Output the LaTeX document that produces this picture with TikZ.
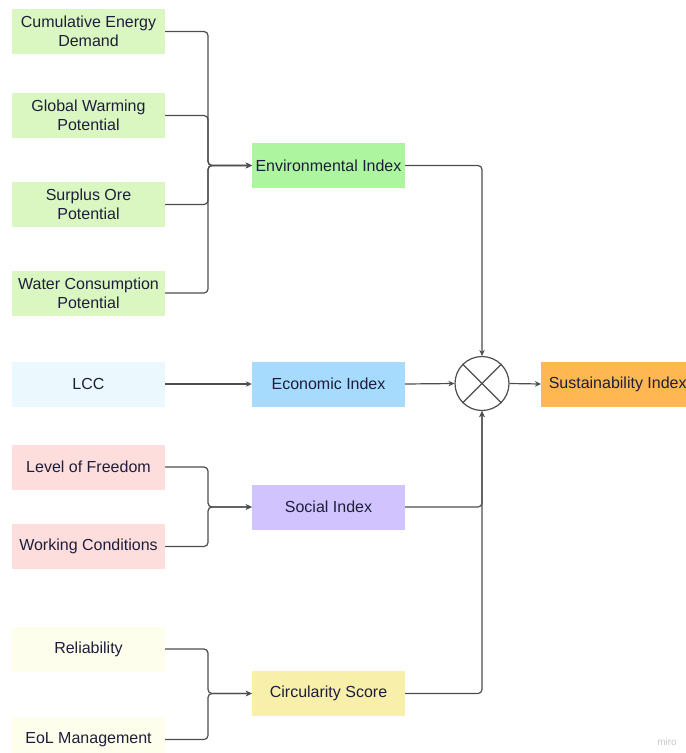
\documentclass[tikz,border=0pt]{standalone}
\usepackage{fontspec}
\setmainfont{Liberation Sans}
\usetikzlibrary{arrows.meta}
\definecolor{envleaf}{HTML}{DAF7C2}
\definecolor{envidx}{HTML}{ADF59F}
\definecolor{lccc}{HTML}{EBF8FE}
\definecolor{ecoc}{HTML}{A6DBFE}
\definecolor{socleaf}{HTML}{FEDEDC}
\definecolor{socc}{HTML}{D1C4FE}
\definecolor{cirleaf}{HTML}{FDFEEB}
\definecolor{cirr}{HTML}{F8EFAB}
\definecolor{sustc}{HTML}{FEB751}
\definecolor{txtc}{HTML}{1E1E3C}
\definecolor{linec}{HTML}{4D4D4D}
\tikzset{
  box/.style={rectangle, minimum width=153pt, minimum height=45pt, inner sep=0pt,
    align=center, text=txtc, font=\fontsize{16}{19}\selectfont},
  conn/.style={draw=linec, line width=1.2pt, rounded corners=4pt,
    -{Stealth[length=6pt,width=5.5pt]}},
}
\begin{document}
\begin{tikzpicture}[x=1pt,y=-1pt]
\useasboundingbox (0,0) rectangle (686,753);
\clip (0,0) rectangle (686,753);
% left column
\node[box, fill=envleaf] (ced) at (88.5,31.5) {Cumulative Energy\\Demand};
\node[box, fill=envleaf] (gwp) at (88.5,115.5) {Global Warming\\Potential};
\node[box, fill=envleaf] (sop) at (88.5,204.5) {Surplus Ore\\Potential};
\node[box, fill=envleaf] (wcp) at (88.5,293) {Water Consumption\\Potential};
\node[box, fill=lccc] (lcc) at (88.5,384) {LCC};
\node[box, fill=socleaf] (lof) at (88.5,467) {Level of Freedom};
\node[box, fill=socleaf] (wc) at (88.5,546.5) {Working Conditions};
\node[box, fill=cirleaf] (rel) at (88.5,649) {Reliability};
\node[box, fill=cirleaf] (eol) at (88.5,739.5) {EoL Management};
% middle column
\node[box, fill=envidx] (env) at (328.5,165.5) {Environmental Index};
\node[box, fill=ecoc] (eco) at (328.5,384) {Economic Index};
\node[box, fill=socc] (soc) at (328.5,507) {Social Index};
\node[box, fill=cirr] (cir) at (328.5,693.5) {Circularity Score};
% combiner
\node[circle, draw=linec, line width=1.2pt, minimum size=54pt, inner sep=0pt] (mix) at (482,383.5) {};
\draw[linec, line width=1.2pt] (mix.north west) -- (mix.south east) (mix.north east) -- (mix.south west);
\node[box, fill=sustc, anchor=west] (sus) at (541,384) {Sustainability Index};
% junctions
\coordinate (jenv) at (208,165.5);
\coordinate (jsoc) at (208,507);
\coordinate (jcir) at (208,693.5);
% connectors
\foreach \n in {ced,gwp,sop,wcp}{\draw[conn] (\n.east) -| (jenv) -- (env.west);}
\foreach \n in {lof,wc}{\draw[conn] (\n.east) -| (jsoc) -- (soc.west);}
\foreach \n in {rel,eol}{\draw[conn] (\n.east) -| (jcir) -- (cir.west);}
\draw[conn] (lcc.east) -- (eco.west);
\draw[conn] (eco.east) -- (mix.west);
\draw[conn] (env.east) -| (mix.north);
\draw[conn] (soc.east) -| (mix.south);
\draw[conn] (cir.east) -| (mix.south);
\draw[conn] (mix.east) -- (sus.west);
\node[text=black!22, font=\fontsize{10}{11}\selectfont] (miro) at (667,742) {miro};
\end{tikzpicture}
\end{document}
